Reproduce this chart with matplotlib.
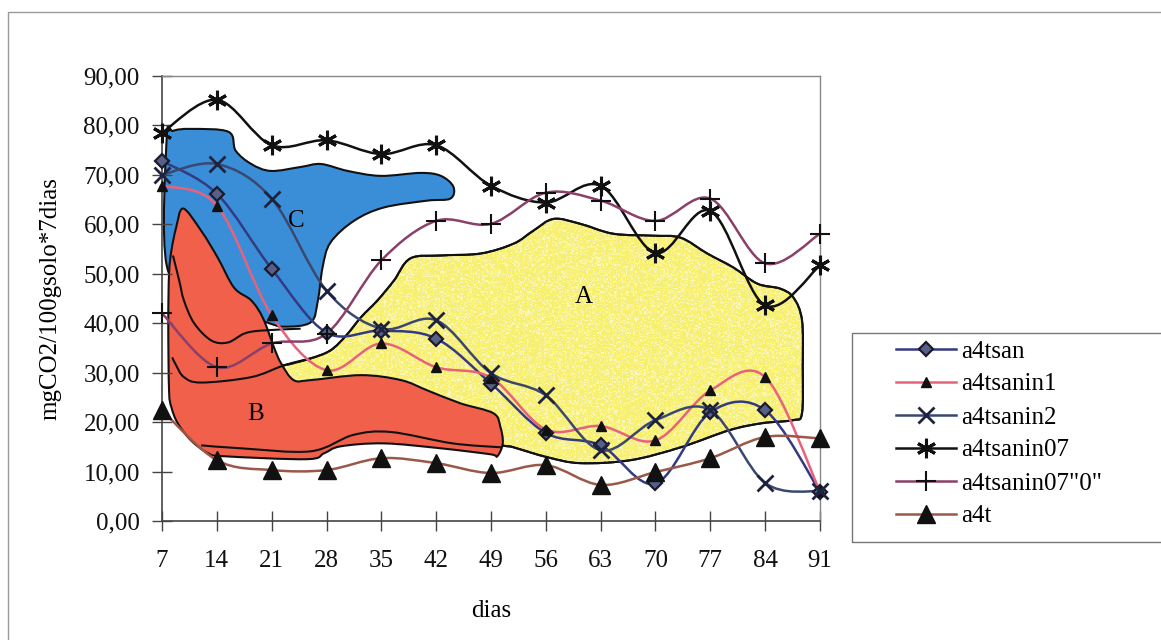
import matplotlib
matplotlib.use("Agg")
import matplotlib.pyplot as plt
import numpy as np
from matplotlib.path import Path
from matplotlib.patches import PathPatch, Rectangle
from matplotlib.lines import Line2D
from matplotlib.ticker import FuncFormatter

plt.rcParams['font.family'] = ['Liberation Serif', 'DejaVu Serif']

dias = [7, 14, 21, 28, 35, 42, 49, 56, 63, 70, 77, 84, 91]

a4tsan = [72.8, 66.2, 51.0, 38.1, 38.5, 36.9, 27.8, 17.8, 15.3, 7.6, 22.0, 22.4, 5.9]
a4tsanin1 = [67.8, 63.8, 41.6, 30.5, 35.9, 31.1, 29.0, 18.5, 19.2, 16.3, 26.4, 29.1, 6.0]
a4tsanin2 = [70.0, 72.2, 65.2, 46.6, 38.9, 40.6, 29.9, 25.4, 14.3, 20.4, 22.4, 7.7, 6.0]
a4tsanin07 = [78.5, 85.2, 76.0, 77.0, 74.2, 76.0, 67.8, 64.4, 67.8, 54.2, 62.7, 43.6, 51.7]
a4tsanin07_0 = [42.0, 31.1, 35.9, 37.9, 52.7, 60.7, 60.1, 66.4, 64.8, 60.7, 65.2, 52.1, 58.1]
a4t = [22.4, 12.3, 10.3, 10.3, 12.7, 11.7, 9.7, 11.3, 7.3, 9.9, 12.7, 17.0, 16.7]

# contornos desenhados a mao sobre o grafico (dia, valor)
zona_a = [(20.6, 31.3), (22.6, 31.5), (26.0, 32.9), (28.5, 34.5), (30.5, 37.5),
          (32.4, 41.2), (34.5, 44.6), (36.6, 48.6), (38.7, 53.1), (42.6, 53.7),
          (47.7, 54.1), (51.9, 56.1), (54.4, 58.7), (57.0, 61.1), (60.4, 60.1),
          (64.6, 58.1), (69.7, 57.7), (73.2, 57.3), (76.6, 54.1), (79.9, 51.3),
          (83.0, 48.0), (85.9, 47.0), (87.6, 45.2), (88.7, 40.6), (88.8, 31.1),
          (88.7, 21.8), (87.6, 20.4), (83.7, 19.8), (79.5, 18.4), (73.2, 14.9),
          (66.8, 12.3), (60.4, 11.7), (56.2, 12.9), (51.9, 14.9), (48.9, 16.3),
          (37.5, 25.4), (24.7, 27.4), (21.5, 29.5)]
zona_b = [(9.7, 63.2), (12.0, 58.7), (14.1, 53.3), (16.2, 47.2), (18.4, 44.6),
          (19.9, 41.0), (21.3, 35.1), (22.2, 31.9), (23.8, 28.5), (26.0, 28.5),
          (32.4, 29.5), (37.5, 28.5), (40.9, 26.4), (45.1, 23.8), (49.3, 21.8),
          (50.2, 19.0), (50.5, 15.7), (49.8, 13.1), (48.9, 13.5), (42.6, 14.7),
          (35.3, 15.7), (29.8, 15.1), (27.7, 13.7), (25.5, 12.5), (14.9, 13.1),
          (12.9, 13.7), (10.7, 16.3), (9.0, 19.8), (8.2, 23.0), (7.9, 26.4),
          (7.8, 40.0), (7.9, 50.0), (8.2, 54.7), (8.8, 59.3)]
zona_c = [(7.6, 77.5), (8.4, 78.9), (10.7, 79.3), (15.5, 78.7), (16.4, 74.9),
          (18.4, 72.2), (20.9, 70.8), (24.7, 71.6), (27.3, 72.2), (30.7, 70.8),
          (34.9, 69.8), (40.0, 70.4), (42.6, 69.8), (44.2, 67.6), (43.8, 65.2),
          (40.9, 64.8), (35.3, 63.4), (31.5, 60.7), (28.5, 56.3), (27.5, 51.3),
          (26.9, 44.6), (26.0, 40.2), (22.6, 39.3), (20.3, 40.2), (12.0, 44.6),
          (7.6, 51.7)]
linha_b1 = [(12.0, 15.3), (17.1, 14.7), (26.0, 14.1), (31.4, 17.4), (36.2, 18.0),
            (44.1, 15.7), (50.3, 14.9)]
linha_b2 = [(8.3, 33.1), (8.8, 31.5), (9.8, 29.1), (12.0, 28.0), (18.4, 29.1),
            (22.6, 31.5), (26.0, 32.9)]
linha_b3 = [(8.4, 53.7), (9.2, 48.6), (9.8, 44.6), (11.1, 40.0), (13.3, 36.5),
            (15.4, 36.1), (17.5, 37.9), (19.6, 38.5), (24.7, 38.9)]


def curva(pts, fechada=False):
    # bezier tipo catmull-rom, como a linha suavizada do excel
    pts = [tuple(p) for p in pts]
    n = len(pts)
    verts = [pts[0]]
    codes = [Path.MOVETO]
    segs = n if fechada else n - 1
    for i in range(segs):
        p1 = pts[i]
        p2 = pts[(i + 1) % n]
        if fechada:
            p0 = pts[i - 1]
            p3 = pts[(i + 2) % n]
        else:
            p0 = pts[i - 1] if i > 0 else p1
            p3 = pts[i + 2] if i + 2 < n else p2
        c1 = (p1[0] + (p2[0] - p0[0]) / 6, p1[1] + (p2[1] - p0[1]) / 6)
        c2 = (p2[0] - (p3[0] - p1[0]) / 6, p2[1] - (p3[1] - p1[1]) / 6)
        verts += [c1, c2, p2]
        codes += [Path.CURVE4] * 3
    if fechada:
        verts.append(pts[0])
        codes.append(Path.CLOSEPOLY)
    return Path(verts, codes)


fig = plt.figure(figsize=(11.61, 6.40), dpi=100)
ax = fig.add_axes([162 / 1161, 1 - 521 / 640, (820 - 162) / 1161, (521 - 76) / 640])

# zonas A, B, C
ax.add_patch(PathPatch(curva(zona_c, True), facecolor='#3a8ed8', edgecolor='#111', lw=1.5, zorder=1))
amarelo = PathPatch(curva(zona_a, True), facecolor='#f7ef70', edgecolor='#111', lw=1.5, zorder=1)
ax.add_patch(amarelo)
# granulado claro do preenchimento amarelo
rng = np.random.default_rng(3)
grao = rng.random((220, 420))
textura = np.zeros((220, 420, 4))
textura[..., :3] = 1.0
textura[..., 3] = np.clip((grao - 0.55) * 1.4, 0, 0.6)
im = ax.imshow(textura, extent=(20, 90, 10, 62), aspect='auto', zorder=1.1, interpolation='nearest')
im.set_clip_path(amarelo)
ax.add_patch(PathPatch(curva(zona_a, True), facecolor='none', edgecolor='#111', lw=1.5, zorder=1.2))
ax.add_patch(PathPatch(curva(zona_b, True), facecolor='#f1604b', edgecolor='#111', lw=1.5, zorder=1.5))
for ln in [linha_b1, linha_b2, linha_b3]:
    ax.add_patch(PathPatch(curva(ln), facecolor='none', edgecolor='#111', lw=1.5, zorder=1.6))

ax.text(60.8, 45.4, 'A', fontsize=18, ha='center', va='center', zorder=2)
ax.text(19.0, 21.6, 'B', fontsize=18, ha='center', va='center', zorder=2)
ax.text(24.2, 60.7, 'C', fontsize=18, ha='center', va='center', zorder=2)

series = [
    ("a4tsan", a4tsan, '#343a82', dict(marker='D', ms=7, mfc='#56608a', mec='#1a1a2a', mew=1.6)),
    ("a4tsanin1", a4tsanin1, '#e8627c', dict(marker='^', ms=7, mfc='#111', mec='#111')),
    ("a4tsanin2", a4tsanin2, '#3a4870', dict(marker='x', ms=11, mfc='#111', mec='#1e2440', mew=2)),
    ("a4tsanin07", a4tsanin07, '#111111', dict(marker=(6, 2, 0), ms=14, mec='#111', mew=2.2)),
    ('a4tsanin07"0"', a4tsanin07_0, '#8a4068', dict(marker='+', ms=14, mec='#111', mew=1.5)),
    ("a4t", a4t, '#9a5848', dict(marker='^', ms=13, mfc='#111', mec='#111')),
]

handles = []
for nome, vals, cor, mk in series:
    ax.add_patch(PathPatch(curva(list(zip(dias, vals))), facecolor='none', edgecolor=cor,
                           lw=1.8, zorder=3, clip_on=False))
    ax.plot(dias, vals, linestyle='none', zorder=4, clip_on=False, **mk)
    handles.append(Line2D([], [], color=cor, lw=1.8, label=nome, **mk))

ax.set_xlim(7, 91)
ax.set_ylim(0, 90)
ax.set_xticks(dias)
ax.set_yticks(np.arange(0, 91, 10))
ax.yaxis.set_major_formatter(FuncFormatter(lambda v, p: f"{v:.2f}".replace('.', ',')))
ax.tick_params(direction='inout', length=14, width=1, colors='#444', labelcolor='#111',
               labelsize=18)
ax.tick_params(axis='y', pad=9)
ax.tick_params(axis='x', pad=14)
for lado in ['left', 'bottom']:
    ax.spines[lado].set_color('#444')
    ax.spines[lado].set_linewidth(1.2)
for lado in ['top', 'right']:
    ax.spines[lado].set_color('#888')
    ax.spines[lado].set_linewidth(1)

ax.set_xlabel('dias', fontsize=18, labelpad=20)
ax.set_ylabel('mgCO2/100gsolo*7dias', fontsize=18, labelpad=16)

# moldura externa e caixa da legenda
fig.patches.append(Rectangle((8 / 1161, -0.1), 1.2, 1.1 - 12 / 640, transform=fig.transFigure,
                             fill=False, edgecolor='#999', lw=1))
fig.patches.append(Rectangle((852 / 1161, 1 - 542 / 640), 0.5, (542 - 333) / 640,
                             transform=fig.transFigure, fill=False, edgecolor='#777', lw=1))
fig.legend(handles=handles, loc='upper left', bbox_to_anchor=(896 / 1161, 1 - 340 / 640),
           frameon=False, fontsize=18, handlelength=2.4, handletextpad=0.2,
           labelspacing=0.42, borderpad=0, borderaxespad=0)

fig.savefig('out.png', dpi=100)
